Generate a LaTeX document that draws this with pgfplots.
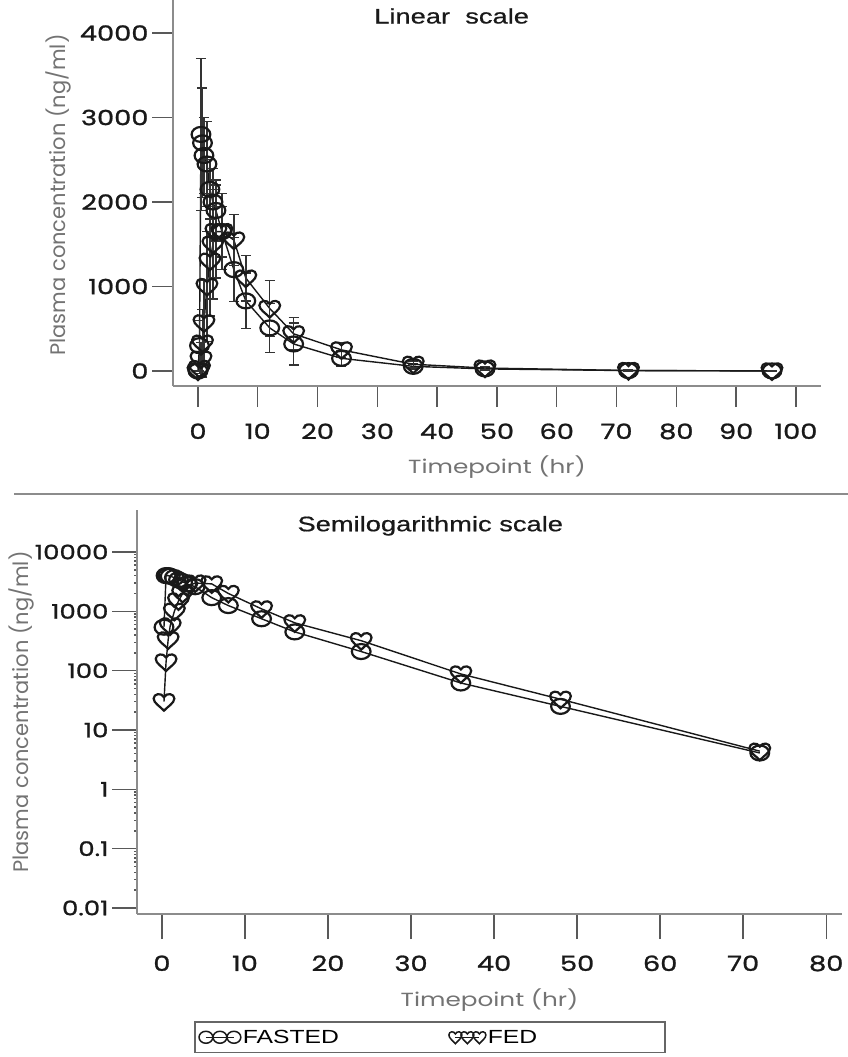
\documentclass[border=0pt]{standalone}
\usepackage{pgfplots}
\usepackage{pgfplotstable}
\pgfplotsset{compat=1.18}
\usepackage{fontspec}
\setmainfont{Liberation Sans}
\newfontfamily\tickf[FakeStretch=1.3,FakeBold=1.2]{Poppins}
\newfontfamily\labf[FakeStretch=1.3]{Poppins}
\newfontfamily\ylabf{Poppins}
\newfontfamily\titf[FakeStretch=1.3,FakeBold=0.6]{Liberation Sans}
\newfontfamily\legf[FakeStretch=1.3]{Liberation Sans}

\pgfdeclareplotmark{heart}{%
  \pgfpathmoveto{\pgfqpoint{0pt}{-\pgfplotmarksize}}%
  \pgfpathcurveto{\pgfqpoint{-0.35\pgfplotmarksize}{-0.55\pgfplotmarksize}}{\pgfqpoint{-1.0\pgfplotmarksize}{-0.15\pgfplotmarksize}}{\pgfqpoint{-1.0\pgfplotmarksize}{0.35\pgfplotmarksize}}%
  \pgfpathcurveto{\pgfqpoint{-1.0\pgfplotmarksize}{0.9\pgfplotmarksize}}{\pgfqpoint{-0.25\pgfplotmarksize}{1.05\pgfplotmarksize}}{\pgfqpoint{0pt}{0.5\pgfplotmarksize}}%
  \pgfpathcurveto{\pgfqpoint{0.25\pgfplotmarksize}{1.05\pgfplotmarksize}}{\pgfqpoint{1.0\pgfplotmarksize}{0.9\pgfplotmarksize}}{\pgfqpoint{1.0\pgfplotmarksize}{0.35\pgfplotmarksize}}%
  \pgfpathcurveto{\pgfqpoint{1.0\pgfplotmarksize}{-0.15\pgfplotmarksize}}{\pgfqpoint{0.35\pgfplotmarksize}{-0.55\pgfplotmarksize}}{\pgfqpoint{0pt}{-\pgfplotmarksize}}%
  \pgfpathclose
  \pgfusepathqstroke
}

\pgfplotstableread{
t fas fassd fed fedsd
0 0 0 0 0
0.25 300 300 30 60
0.5 2800 900 140 200
0.75 2700 650 330 400
1 2550 450 570 500
1.5 2450 500 1000 650
2 2150 350 1300 650
2.5 2000 400 1500 650
3 1900 360 1650 550
4 1650 300 1650 450
6 1200 380 1550 300
8 830 330 1100 270
12 510 290 740 330
16 320 250 440 190
24 150 90 250 90
36 55 30 80 40
48 25 15 35 20
72 5 3 6 4
96 1 1 1 1
}\lindata

\pgfplotstableread{
t fas fed
0.25 540 30
0.5 4000 140
0.75 4000 330
1 3900 570
1.5 3700 1000
2 3400 1500
2.5 3150 2000
3 2900 2600
4 2600 3000
6 1700 2900
8 1250 2000
12 750 1100
16 450 640
24 210 320
36 62 88
48 25 33
72 4.1 4.4
}\logdata

\pgfplotsset{
  fasted/.style={black!90, line width=1.4pt, mark=o, mark size=7.5pt,
    mark options={xscale=1.25, line width=2.2pt, solid, black!90}},
  fed/.style={black!90, line width=1.4pt, mark=heart, mark size=9pt,
    mark options={xscale=1.15, line width=2.2pt, solid, black!90}},
  common/.style={
    scale only axis,
    axis x line*=bottom, axis y line*=left,
    axis line style={draw=black!45, line width=1.4pt},
    tick align=outside,
    tick style={draw=black!65, line width=1.4pt},
    ticklabel style={font=\tickf\fontsize{21}{21}\selectfont, text=black!90},
    xticklabel style={yshift=-13pt},
    xlabel style={anchor=center, font=\labf\fontsize{19}{19}\selectfont, text=black!55},
    ylabel style={anchor=center, font=\ylabf\fontsize{21}{21}\selectfont, text=black!55},
    title style={anchor=center, font=\titf\fontsize{21}{21}\selectfont, text=black!90},
  },
}

\begin{document}
\begin{tikzpicture}
\useasboundingbox (0pt,0pt) rectangle (848pt,-1057pt);

% ---------------- Linear scale ----------------
\begin{axis}[common,
  at={(173pt,-386pt)}, anchor=south west,
  width=648pt, height=386pt,
  xmin=-4.18, xmax=104.2, ymin=-177.5, ymax=4391,
  major tick length=21pt,
  xtick={0,10,...,100}, xticklabels={0,10,20,30,40,50,60,70,80,90,100},
  ytick={0,1000,2000,3000,4000}, yticklabels={0,1000,2000,3000,4000},
  xlabel={Timepoint (hr)},
  ylabel={Plasma concentration (ng/ml)},
  xlabel style={at={(axis description cs:0.5,-0.21)}},
  ylabel style={at={(axis description cs:-0.1775,0.495)}},
  title={Linear\ \ scale},
  title style={at={(axis description cs:0.43,0.943)}},
]
\addplot+[fasted, error bars/.cd, y dir=both, y explicit,
  error bar style={line width=1.4pt, black!80},
  error mark options={mark size=5pt, line width=1.4pt, black!80, rotate=90}]
  table[x=t, y=fas, y error=fassd] {\lindata};
\addplot+[fed, error bars/.cd, y dir=both, y explicit,
  error bar style={line width=1.4pt, black!80},
  error mark options={mark size=5pt, line width=1.4pt, black!80, rotate=90}]
  table[x=t, y=fed, y error=fedsd] {\lindata};
\end{axis}

\draw[black!45, line width=1.4pt] (14pt,-494pt) -- (848pt,-494pt);

% ---------------- Semilogarithmic scale ----------------
\begin{axis}[common,
  at={(137pt,-914pt)}, anchor=south west,
  width=705pt, height=404pt,
  xmin=-3.0, xmax=81.9, ymode=log, ymin=0.00792, ymax=51000,
  major tick length=25pt,
  xtick={0,10,...,80}, xticklabels={0,10,20,30,40,50,60,70,80},
  ytick={0.01,0.1,1,10,100,1000,10000},
  yticklabels={0.01,0.1,1,10,100,1000,10000},
  minor ytick={},
  yticklabel style={font=\tickf\fontsize{20}{20}\selectfont},
  xlabel={Timepoint (hr)},
  ylabel={Plasma concentration (ng/ml)},
  xlabel style={at={(axis description cs:0.5,-0.213)}},
  ylabel style={at={(axis description cs:-0.1638,0.5)}},
  title={Semilogarithmic scale},
  title style={at={(axis description cs:0.416,0.946)}},
  legend columns=2,
  legend style={at={(axis description cs:0.0823,-0.267)}, anchor=north west,
    draw=black!60, line width=1.4pt, inner xsep=4pt, inner ysep=6pt, outer sep=0pt,
    font=\legf\fontsize{19}{19}\selectfont,
    /tikz/every even column/.append style={column sep=108pt}},
  legend cell align=left,
]
\addplot[fasted,
  legend image code/.code={\draw[black!90, line width=1pt] plot[mark=o, mark size=6pt, mark options={xscale=1.15, line width=1.5pt}] coordinates {(0pt,0pt) (14pt,0pt) (28pt,0pt)};}]
  table[x=t, y=fas] {\logdata};
\addlegendentry{FASTED}
\addplot[fed,
  legend image code/.code={\draw[black!90, line width=1pt] plot[mark=heart, mark size=6.5pt, mark options={line width=1.5pt}] coordinates {(0pt,0pt) (12pt,0pt) (24pt,0pt)};}]
  table[x=t, y=fed] {\logdata};
\addlegendentry{\makebox[171pt][l]{FED}}
\end{axis}
\end{tikzpicture}
\end{document}
